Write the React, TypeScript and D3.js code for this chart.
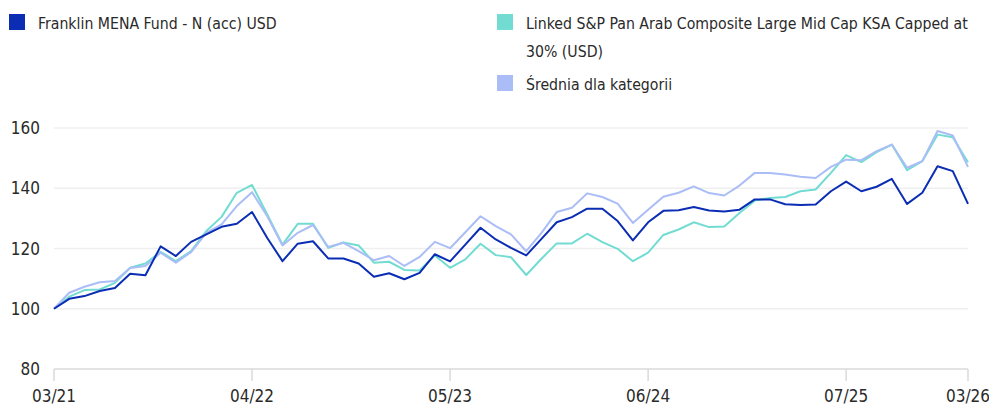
import React from "react";
import * as d3 from "d3";

const fund = [100,103.3,104.2,105.9,106.9,111.6,111.1,120.7,117.5,122.2,124.7,127.2,128.2,132.1,123.5,115.8,121.6,122.4,116.7,116.7,115.0,110.6,111.8,109.8,111.9,118.1,115.7,121.3,126.9,123.0,120.2,117.7,123.2,128.7,130.4,133.2,133.2,129.1,122.7,128.7,132.5,132.7,133.8,132.6,132.3,132.9,136.3,136.3,134.7,134.4,134.6,139.0,142.2,139.0,140.5,143.1,134.8,138.5,147.3,145.7,134.8];
const benchmark = [100,104.0,106.2,106.4,108.6,113.6,115.0,118.9,115.8,119.1,125.8,130.5,138.5,141.1,131.3,121.3,128.2,128.2,120.2,122.0,121.0,115.3,115.6,112.9,112.7,117.7,113.6,116.4,121.6,117.8,117.1,111.2,116.6,121.7,121.7,124.9,122.1,119.9,115.8,118.6,124.5,126.3,128.7,127.1,127.3,131.8,135.9,136.8,137.1,139.0,139.6,145.1,151.0,148.7,152.0,154.5,146.0,149.0,157.8,156.9,148.6];
const category = [100,105.3,107.3,108.8,109.2,113.5,114.2,118.6,115.3,118.8,125.2,128.0,134.1,138.7,130.7,121.0,125.2,127.8,120.5,121.9,119.1,116.1,117.5,114.2,117.2,122.2,120.1,125.4,130.7,127.4,124.7,119.1,125.2,132.1,133.5,138.3,137.1,134.9,128.5,132.9,137.2,138.5,140.6,138.4,137.6,140.9,145.1,145.1,144.6,143.8,143.4,147.1,149.5,149.3,152.3,154.5,146.8,149.0,159.0,157.5,147.1];

const xTickIndex = [0, 13, 26, 39, 52, 60];
const xTickLabels = ["03/21", "04/22", "05/23", "06/24", "07/25", "03/26"];
const yTicks = [80, 100, 120, 140, 160];

const seriesNames = [
  "Franklin MENA Fund - N (acc) USD",
  "Linked S&P Pan Arab Composite Large Mid Cap KSA Capped at|30% (USD)",
  "Średnia dla kategorii",
];
const colors = ["#0a2db3", "#72dcd3", "#abbdf6"];

const FONT = "'Liberation Sans Narrow', 'DejaVu Sans Condensed', 'Roboto', sans-serif";

export default function App() {
  const W = 989, H = 408;
  const x = d3.scaleLinear().domain([0, fund.length - 1]).range([54, 968]);
  const y = d3.scaleLinear().domain([80, 160]).range([369, 128]);
  const line = d3.line<number>().x((_, i) => x(i)).y((d) => y(d));

  const drawOrder = [
    { data: benchmark, color: colors[1] },
    { data: category, color: colors[2] },
    { data: fund, color: colors[0] },
  ];

  const legend = [
    { x: 9, y: 14, color: colors[0], lines: seriesNames[0].split("|") },
    { x: 497, y: 14, color: colors[1], lines: seriesNames[1].split("|") },
    { x: 497, y: 75, color: colors[2], lines: seriesNames[2].split("|") },
  ];

  return (
    <svg width={W} height={H} style={{ position: "absolute", left: 0, top: 0 }} fontFamily={FONT}>
      <rect width={W} height={H} fill="#fff" />
      {legend.map((l, k) => (
        <g key={k}>
          <rect x={l.x} y={l.y} width={16} height={16} fill={l.color} />
          {l.lines.map((t, j) => (
            <text key={j} x={l.x + 29} y={l.y + 15 + j * 28} fontSize={15.7} fill="#2a2a2a">
              {t}
            </text>
          ))}
        </g>
      ))}
      {yTicks.map((t) => (
        <g key={t}>
          {t !== 80 && (
            <line x1={54} x2={968} y1={y(t)} y2={y(t)} stroke="#efefef" strokeWidth={1.5} />
          )}
          <text x={40} y={y(t) + 6} textAnchor="end" fontSize={17} fill="#2a2a2a">
            {t}
          </text>
        </g>
      ))}
      <line x1={54} x2={968} y1={y(80)} y2={y(80)} stroke="#dadada" strokeWidth={1.5} />
      {xTickIndex.map((idx, k) => (
        <g key={k}>
          <line x1={x(idx)} x2={x(idx)} y1={y(80)} y2={y(80) + 12} stroke="#dadada" strokeWidth={1.5} />
          <text x={x(idx)} y={402} textAnchor="middle" fontSize={17} fill="#2a2a2a">
            {xTickLabels[k]}
          </text>
        </g>
      ))}
      {drawOrder.map((s, k) => (
        <path key={k} d={line(s.data) || ""} fill="none" stroke={s.color} strokeWidth={2} strokeLinejoin="round" />
      ))}
    </svg>
  );
}
